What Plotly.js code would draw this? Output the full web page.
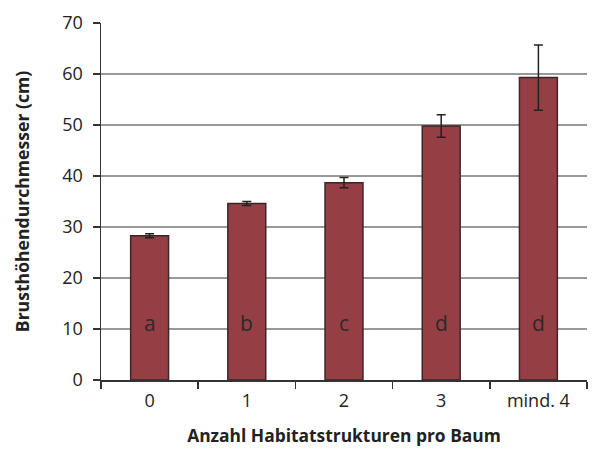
<!DOCTYPE html>
<html>
<head>
<meta charset="utf-8">
<script src="https://cdn.plot.ly/plotly-3.0.1.min.js"></script>
<style>html,body{margin:0;padding:0;background:#fff;}#chart{width:595px;height:456px;}</style>
</head>
<body>
<div id="chart"></div>
<script>
const categories = ["0", "1", "2", "3", "mind. 4"];
const values = [28.3, 34.6, 38.7, 49.8, 59.3];
const errors = [0.4, 0.4, 1.0, 2.2, 6.4];
const groupLetters = ["a", "b", "c", "d", "d"];
const yTicks = [0, 10, 20, 30, 40, 50, 60, 70];

const FONT = "Open Sans, Noto Sans, sans-serif";

const trace = {
  type: "bar",
  x: categories,
  y: values,
  width: 0.39,
  marker: { color: "#953f45", line: { color: "#3a2626", width: 1.5 } },
  error_y: { type: "data", array: errors, visible: true, color: "#222", thickness: 1.5, width: 4.5 },
  hoverinfo: "skip"
};

const annotations = categories.map((c, i) => ({
  x: c, y: 11.2, xref: "x", yref: "y", text: groupLetters[i], showarrow: false,
  font: { family: FONT, size: 21, color: "#2a2a2a" }, yanchor: "middle"
}));

const layout = {
  width: 595, height: 456,
  margin: { l: 101, r: 8, t: 23, b: 76 },
  paper_bgcolor: "#fff", plot_bgcolor: "#fff",
  showlegend: false,
  font: { family: FONT, size: 18, color: "#222" },
  xaxis: {
    type: "category",
    tickson: "boundaries",
    ticks: "outside", ticklen: 7, tickwidth: 1.5, tickcolor: "#333",
    showline: true, linecolor: "#333", linewidth: 1.5,
    showgrid: false, zeroline: false,
    ticklabelstandoff: 4,
    tickfont: { family: FONT, size: 18, color: "#222" },
    title: { text: "<b>Anzahl Habitatstrukturen pro Baum</b>", font: { family: FONT, size: 17.4, color: "#222" }, standoff: 18 }
  },
  yaxis: {
    range: [0, 70],
    tickvals: yTicks,
    ticktext: yTicks.map(String),
    ticks: "outside", ticklen: 7, tickwidth: 1.5, tickcolor: "#333",
    showline: true, linecolor: "#333", linewidth: 1.5,
    showgrid: true, gridcolor: "#999", gridwidth: 1.5,
    zeroline: false,
    ticklabelstandoff: 6,
    tickfont: { family: FONT, size: 18, color: "#222" },
    title: { text: "<b>Brusthöhendurchmesser (cm)</b>", font: { family: FONT, size: 17.6, color: "#222" }, standoff: 28 }
  },
  annotations: annotations
};

Plotly.newPlot("chart", [trace], layout, { staticPlot: true, displayModeBar: false });
</script>
</body>
</html>
